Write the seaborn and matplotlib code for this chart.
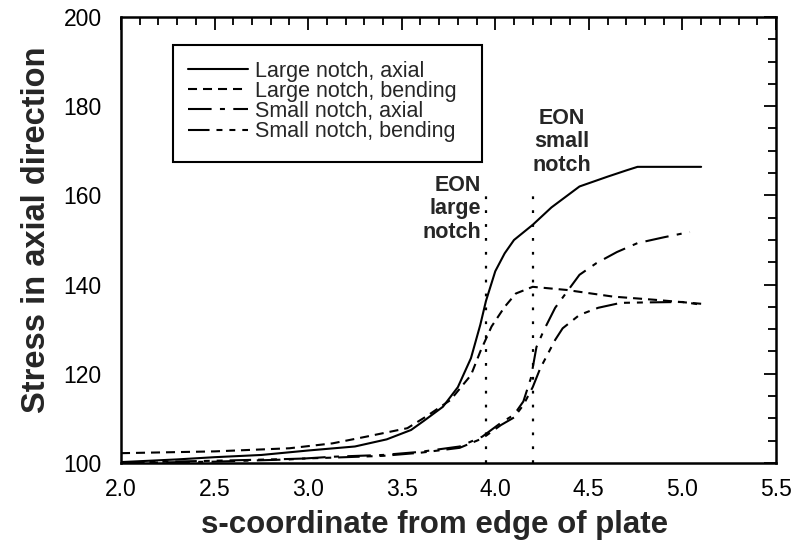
import matplotlib
matplotlib.use("Agg")
import matplotlib.pyplot as plt
from matplotlib.patches import Rectangle
from matplotlib.ticker import MultipleLocator
import seaborn as sns
import pandas as pd

# ---- data ----
large_axial_x = [2.0, 2.3, 2.5, 2.75, 3.0, 3.25, 3.42, 3.55, 3.62, 3.72, 3.8, 3.87, 3.92, 3.95,
                 4.0, 4.05, 4.1, 4.2, 4.3, 4.45, 4.6, 4.7, 4.76, 5.1]
large_axial_y = [100.2, 100.8, 101.3, 101.8, 102.8, 103.7, 105.3, 107.4, 109.5, 112.6, 117.0, 123.5,
                 131.0, 136.3, 143.0, 147.0, 150.0, 153.4, 157.3, 162.0, 164.2, 165.6, 166.4, 166.4]

large_bending_x = [2.0, 2.5, 2.9, 3.13, 3.31, 3.53, 3.63, 3.76, 3.87, 3.92, 3.98, 4.05, 4.11, 4.2,
                   4.38, 4.63, 4.85, 5.1]
large_bending_y = [102.2, 102.6, 103.3, 104.4, 105.9, 107.8, 110.4, 114.1, 119.7, 125.0, 130.6,
                   135.0, 138.0, 139.5, 138.8, 137.3, 136.6, 135.7]

small_axial_x = [2.0, 2.5, 2.9, 3.13, 3.4, 3.6, 3.81, 3.93, 4.03, 4.1, 4.15, 4.19, 4.22, 4.26,
                 4.32, 4.45, 4.54, 4.65, 4.76, 4.9, 5.04]
small_axial_y = [100.0, 100.3, 100.8, 101.4, 101.8, 102.5, 103.7, 105.9, 109.0, 110.8, 113.8,
                 119.0, 126.0, 129.8, 134.8, 142.2, 144.8, 147.3, 149.3, 150.6, 151.8]

small_bending_x = [2.0, 2.5, 2.9, 3.13, 3.4, 3.6, 3.81, 3.93, 4.03, 4.1, 4.15, 4.2, 4.24, 4.32,
                   4.36, 4.45, 4.55, 4.67, 4.8, 5.0, 5.1]
small_bending_y = [100.1, 100.5, 100.9, 101.2, 101.6, 102.3, 103.4, 105.5, 108.5, 110.2, 113.0,
                   117.0, 121.2, 127.6, 130.2, 133.2, 134.8, 135.9, 136.0, 136.1, 135.5]

series_labels = ["Large notch, axial", "Large notch, bending",
                 "Small notch, axial", "Small notch, bending"]

eon_x = [3.95, 4.2]
eon_top = [160.0, 160.5]
eon_labels = ["EON\nlarge\nnotch", "EON\nsmall\nnotch"]

x_ticks = [2.0, 2.5, 3.0, 3.5, 4.0, 4.5, 5.0, 5.5]
y_ticks = [100, 120, 140, 160, 180, 200]

# ---- style ----
sns.set_style("white")
plt.rcParams["font.family"] = ["Liberation Sans", "DejaVu Sans"]
plt.rcParams["lines.scale_dashes"] = False

fig = plt.figure(figsize=(7.95, 5.41), dpi=100)
ax = fig.add_axes([0.1522, 0.1442, 0.8239, 0.8244])

styles = [
    "-",
    (0, (6.5, 4.3)),
    (0, (17.0, 6.0, 3.6, 6.0)),
    (0, (15.5, 5.0, 4.3, 5.0, 4.3, 5.0)),
]
xs = [large_axial_x, large_bending_x, small_axial_x, small_bending_x]
ys = [large_axial_y, large_bending_y, small_axial_y, small_bending_y]

for x, y, lab, ls in zip(xs, ys, series_labels, styles):
    df = pd.DataFrame({"s": x, "stress": y})
    sns.lineplot(data=df, x="s", y="stress", ax=ax, color="black", linewidth=1.5,
                 linestyle=ls, label=lab, estimator=None, sort=False)

# EON markers
for xv, top in zip(eon_x, eon_top):
    ax.vlines(xv, 100, top, colors="black", linewidth=1.6, linestyles=[(0, (2.0, 8.0))])

ax.text(3.925, 157.0, eon_labels[0], ha="right", va="center", multialignment="right",
        fontsize=15.5, fontweight="bold", linespacing=1.15)
ax.text(4.355, 172.0, eon_labels[1], ha="center", va="center", multialignment="center",
        fontsize=15.5, fontweight="bold", linespacing=1.15)

ax.set_xlim(2.0, 5.5)
ax.set_ylim(100, 200)
ax.set_xticks(x_ticks)
ax.set_xticklabels([f"{v:.1f}" for v in x_ticks])
ax.set_yticks(y_ticks)
ax.xaxis.set_minor_locator(MultipleLocator(0.1))
ax.yaxis.set_minor_locator(MultipleLocator(5))
ax.tick_params(which="both", direction="in", top=True, right=True, colors="black",
               width=1.3)
ax.tick_params(which="major", length=9)
ax.tick_params(which="minor", length=5.5)
ax.tick_params(axis="x", which="major", labelsize=16.5, pad=11)
ax.tick_params(axis="y", which="major", labelsize=16.5, pad=14)
for sp in ax.spines.values():
    sp.set_visible(True)
    sp.set_linewidth(1.8)
    sp.set_color("black")

ax.set_xlabel("s-coordinate from edge of plate", fontsize=22.5, fontweight="bold", labelpad=6)
ax.set_ylabel("Stress in axial direction", fontsize=23.5, fontweight="bold", labelpad=8)
ax.xaxis.label.set_x(0.479)
ax.yaxis.label.set_y(0.522)

# legend
leg = ax.legend(loc="upper left", bbox_to_anchor=(0.1023, 0.902), frameon=False,
                fontsize=15.5, handlelength=2.8, handletextpad=0.33, labelspacing=-0.04,
                borderpad=0, borderaxespad=0)
ax.add_patch(Rectangle((0.079, 0.675), 0.472, 0.262, transform=ax.transAxes,
                       fill=False, edgecolor="black", linewidth=1.5, zorder=5))

fig.savefig("out.png", dpi=100)
